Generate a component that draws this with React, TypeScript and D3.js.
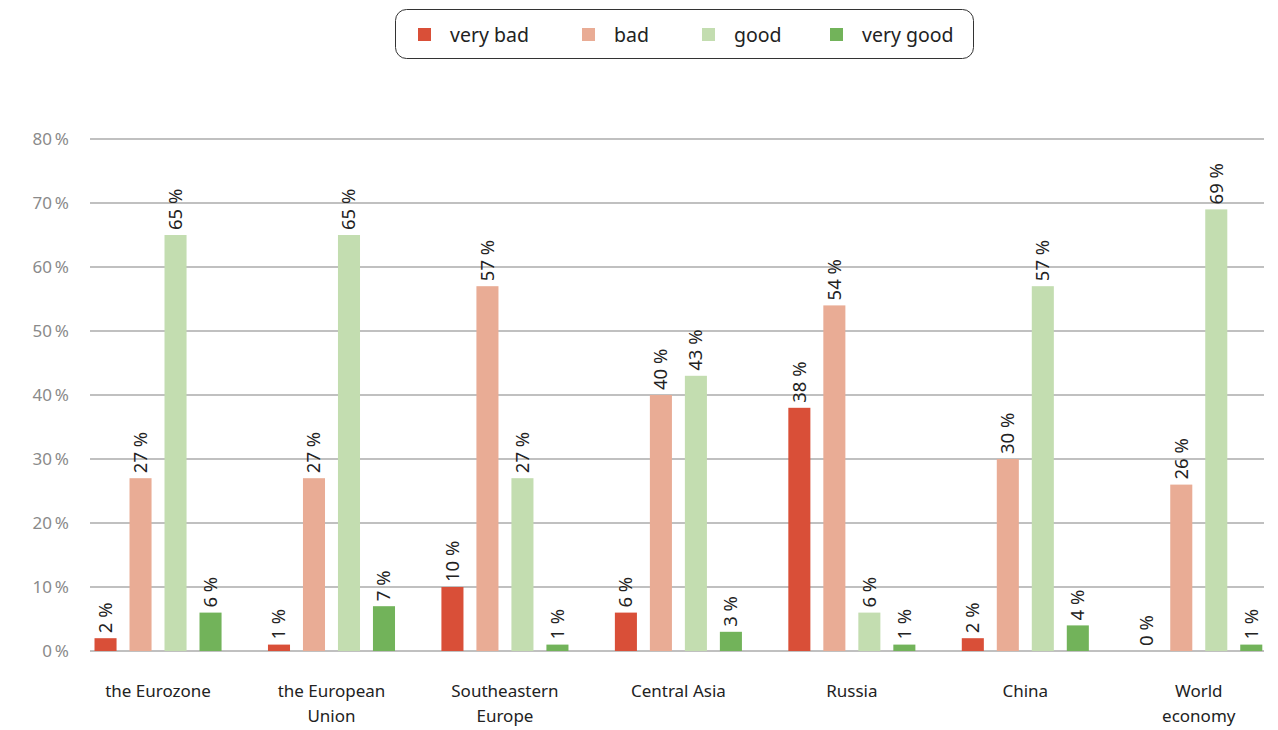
import React from "react";
import * as d3 from "d3";

const categories = [
  ["the Eurozone"],
  ["the European", "Union"],
  ["Southeastern", "Europe"],
  ["Central Asia"],
  ["Russia"],
  ["China"],
  ["World", "economy"],
];
const seriesNames = ["very bad", "bad", "good", "very good"];
const seriesColors = ["#D94F38", "#E9AC95", "#C3DDB0", "#72B35A"];
const veryBad = [2, 1, 10, 6, 38, 2, 0];
const bad = [27, 27, 57, 40, 54, 30, 26];
const good = [65, 65, 27, 43, 6, 57, 69];
const veryGood = [6, 7, 1, 3, 1, 4, 1];
const yTicks = [0, 10, 20, 30, 40, 50, 60, 70, 80];

const W = 1278;
const H = 730;
const FONT = "'Noto Sans', 'Open Sans', sans-serif";

export default function App() {
  const series = [veryBad, bad, good, veryGood];
  const catKeys = categories.map((c) => c.join(" "));
  const y = d3.scaleLinear().domain([0, 80]).range([651, 139]);
  const x0 = d3.scaleBand<string>().domain(catKeys).range([71.3, 1285.5]).padding(0);
  const x1 = d3
    .scaleBand<string>()
    .domain(seriesNames)
    .range([-70, 70])
    .paddingInner(0.37)
    .paddingOuter(0.185);
  const gridX1 = 90;
  const gridX2 = 1264;
  const legendX = [418, 582, 702, 830];

  return (
    <svg width={W} height={H} style={{ display: "block", position: "absolute", left: 0, top: 0 }}>
      <rect width={W} height={H} fill="#fff" />
      {/* legend */}
      <rect x={395.5} y={9.5} width={578} height={49} rx={11} ry={11} fill="#fff" stroke="#333" strokeWidth={1} />
      {seriesNames.map((s, i) => {
        const xs = legendX[i];
        return (
          <g key={s}>
            <rect x={xs} y={28} width={13} height={13} fill={seriesColors[i]} />
            <text x={xs + 32} y={42} fontFamily={FONT} fontSize={19.5} fill="#222">
              {s}
            </text>
          </g>
        );
      })}
      {/* gridlines and y tick labels */}
      {yTicks.map((t) => (
        <g key={t}>
          <line x1={gridX1} x2={gridX2} y1={y(t)} y2={y(t)} stroke="#ababab" strokeWidth={1.5} />
          <text x={69} y={y(t)} dy="0.35em" textAnchor="end" fontFamily={FONT} fontSize={17} fill="#8a8a8a">
            {t}
            {"\u2009"}%
          </text>
        </g>
      ))}
      {/* bars */}
      {catKeys.map((c, ci) => {
        const cx = (x0(c) as number) + x0.bandwidth() / 2;
        return (
          <g key={c}>
            {series.map((vals, si) => {
              const v = vals[ci];
              const bx = cx + (x1(seriesNames[si]) as number);
              const bw = x1.bandwidth();
              const top = y(v);
              const lx = bx + bw / 2;
              const ly = top - 5;
              return (
                <g key={si}>
                  {v > 0 && (
                    <rect x={bx} y={top} width={bw} height={y(0) - top} fill={seriesColors[si]} />
                  )}
                  <text
                    transform={`translate(${lx},${ly}) rotate(-90)`}
                    dy="0.35em"
                    fontFamily={FONT}
                    fontSize={18.5}
                    fill="#222"
                  >
                    {v} %
                  </text>
                </g>
              );
            })}
            {categories[ci].map((line, li) => (
              <text
                key={li}
                x={cx}
                y={697 + li * 25}
                textAnchor="middle"
                fontFamily={FONT}
                fontSize={17}
                fill="#222"
              >
                {line}
              </text>
            ))}
          </g>
        );
      })}
    </svg>
  );
}
